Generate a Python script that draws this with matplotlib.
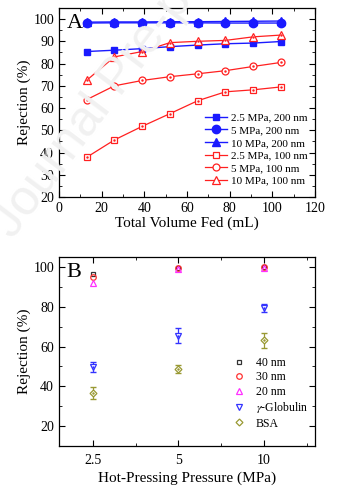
import numpy as np
import matplotlib
matplotlib.use('Agg')
import matplotlib.pyplot as plt
from matplotlib.ticker import MultipleLocator

plt.rcParams['font.family'] = ['Liberation Serif', 'DejaVu Serif']
plt.rcParams['mathtext.fontset'] = 'stix'

# ---- panel A: rejection vs. volume fed ----
volume = [13, 26, 39, 52, 65, 78, 91, 104]
rej_25_200 = [85.4, 86.0, 86.7, 87.6, 88.3, 88.9, 89.2, 89.9]
rej_5_200 = [98.2, 98.3, 98.3, 98.3, 98.3, 98.2, 98.2, 98.2]
rej_10_200 = [98.6, 98.7, 98.7, 98.8, 98.8, 98.9, 99.0, 99.1]
rej_25_100 = [37.9, 45.7, 51.8, 57.5, 63.3, 67.3, 68.2, 69.5]
rej_5_100 = [63.8, 70.0, 72.4, 74.1, 75.4, 76.8, 78.7, 80.5]
rej_10_100 = [72.5, 83.0, 85.4, 89.4, 90.0, 90.4, 92.0, 92.8]

# ---- panel B: rejection vs. hot-pressing pressure ----
pressure = ['2.5', '5', '10']
rej_40nm = [96.5, 99.5, 99.8]
rej_30nm = [94.7, 99.2, 99.7]
rej_20nm = [91.8, 98.7, 99.5]
rej_glob = [49.5, 65.5, 79.2]
err_glob = [2.5, 3.6, 2.0]
rej_bsa = [36.7, 48.5, 63.2]
err_bsa = [3.0, 2.0, 3.8]

fig = plt.figure(figsize=(3.37, 4.94), dpi=100)
fig.text(0.04, 0.515, 'Journal Pre-proof', fontsize=36, color='#f1f1f1',
         rotation=53, ha='left', va='baseline', zorder=0, family='Liberation Sans',
         rotation_mode='anchor')

blue = '#1a1aff'
red = '#ff2020'

ax1 = fig.add_axes([0.175, 0.601, 0.760, 0.383])
ax1.set_facecolor('none')
ax1.plot(volume, rej_25_200, '-s', color=blue, ms=5, lw=1, label='2.5 MPa, 200 nm')
ax1.plot(volume, rej_5_200, '-o', color=blue, ms=6, lw=1, label='5 MPa, 200 nm')
ax1.plot(volume, rej_10_200, '-^', color=blue, ms=6, lw=1, label='10 MPa, 200 nm')
ax1.plot(volume, rej_25_100, '-s', color=red, mfc='white', ms=4.5, mew=0.9, lw=0.9,
         label='2.5 MPa, 100 nm')
ax1.plot(volume, rej_5_100, '-o', color=red, mfc='white', ms=5, mew=0.9, lw=0.9,
         label='5 MPa, 100 nm')
ax1.plot(volume, rej_10_100, '-^', color=red, mfc='white', ms=5.5, mew=0.9, lw=0.9,
         label='10 MPa, 100 nm')
for ys in (rej_25_100, rej_5_100, rej_10_100):
    ax1.plot(volume, ys, '.', color=red, ms=1.5)
ax1.set_xlim(0, 120)
ax1.set_ylim(20, 105)
ax1.xaxis.set_major_locator(MultipleLocator(20))
ax1.xaxis.set_minor_locator(MultipleLocator(10))
ax1.yaxis.set_major_locator(MultipleLocator(10))
ax1.yaxis.set_minor_locator(MultipleLocator(5))
ax1.set_xlabel('Total Volume Fed (mL)', fontsize=11, labelpad=1)
ax1.set_ylabel('Rejection (%)', fontsize=11, labelpad=2)
ax1.text(0.03, 0.97, 'A', transform=ax1.transAxes, fontsize=16, va='top', ha='left')
ax1.legend(loc='lower right', frameon=False, fontsize=8, handlelength=2.0,
           handletextpad=0.3, labelspacing=0.25, borderaxespad=0.3,
           bbox_to_anchor=(1.0, 0.02))

ax2 = fig.add_axes([0.175, 0.097, 0.760, 0.383])
ax2.set_facecolor('none')
xpos = np.arange(len(pressure))
ax2.errorbar(xpos, rej_glob, yerr=err_glob, fmt='none', ecolor='#3333ff',
             elinewidth=0.9, capsize=2.5)
ax2.errorbar(xpos, rej_bsa, yerr=err_bsa, fmt='none', ecolor='#999933',
             elinewidth=0.9, capsize=2.5)
ax2.plot(xpos, rej_40nm, 's', color='#333333', mfc='white', ms=3.5, mew=0.9, label='40 nm')
ax2.plot(xpos, rej_30nm, 'o', color='#ff3030', mfc='none', ms=4, mew=0.9, label='30 nm')
ax2.plot(xpos, rej_20nm, '^', color='#ff30ff', mfc='none', ms=4.5, mew=0.9, label='20 nm')
ax2.plot(xpos, rej_glob, 'v', color='#3333ff', mfc='white', ms=4.5, mew=0.9,
         label=r'$\gamma$-Globulin')
ax2.plot(xpos, rej_bsa, 'D', color='#999933', mfc='white', ms=3.5, mew=0.9, label='BSA')
ax2.plot(xpos, rej_glob, '.', color='#3333ff', ms=1.5)
ax2.plot(xpos, rej_bsa, '.', color='#999933', ms=1.5)
ax2.set_xlim(-0.4, 2.6)
ax2.set_ylim(10, 105)
ax2.set_xticks(xpos)
ax2.set_xticklabels(pressure)
ax2.set_xticks([0.5, 1.5, 2.5], minor=True)
ax2.yaxis.set_major_locator(MultipleLocator(20))
ax2.yaxis.set_minor_locator(MultipleLocator(10))
ax2.set_xlabel('Hot-Pressing Pressure (MPa)', fontsize=11, labelpad=3)
ax2.set_ylabel('Rejection (%)', fontsize=11, labelpad=2)
ax2.text(0.03, 0.97, 'B', transform=ax2.transAxes, fontsize=16, va='top', ha='left')
ax2.legend(loc='lower right', frameon=False, fontsize=8.5, handlelength=1.0,
           handletextpad=0.9, labelspacing=0.2, borderaxespad=0.2,
           bbox_to_anchor=(1.0, 0.05), numpoints=1)

for ax in (ax1, ax2):
    ax.tick_params(which='both', direction='in', top=True, right=True, labelsize=10)
    ax.tick_params(which='major', length=4, width=0.8)
    ax.tick_params(which='minor', length=2, width=0.6)
    for s in ax.spines.values():
        s.set_linewidth(0.9)
ax2.tick_params(axis='x', which='major', pad=6)

fig.savefig('out.png', dpi=100)
